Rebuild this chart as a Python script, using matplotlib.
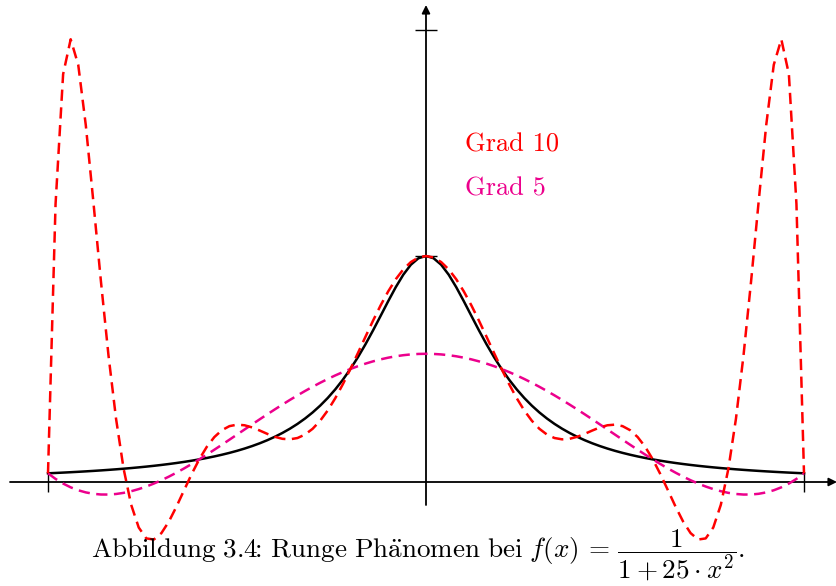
import numpy as np
import matplotlib
matplotlib.use("Agg")
import matplotlib.pyplot as plt

plt.rcParams['mathtext.fontset'] = 'cm'
plt.rcParams['font.family'] = ['cmr10', 'DejaVu Serif']
plt.rcParams['axes.unicode_minus'] = False

# Runge function stated in the caption
def runge(x):
    return 1.0 / (1.0 + 25.0 * x ** 2)

# Equidistant interpolation nodes on [-1, 1]
nodes_deg10 = [-1.0, -0.8, -0.6, -0.4, -0.2, 0.0, 0.2, 0.4, 0.6, 0.8, 1.0]
nodes_deg5 = [-1.0, -0.6, -0.2, 0.2, 0.6, 1.0]
labels = ["Grad 10", "Grad 5"]

RED = "#ff0000"
MAGENTA = "#ec008c"

xs = np.linspace(-1, 1, 101)
x_nodes10 = np.array(nodes_deg10)
x_nodes5 = np.array(nodes_deg5)
p10 = np.polyfit(x_nodes10, runge(x_nodes10), 10)
p5 = np.polyfit(x_nodes5, runge(x_nodes5), 5)

fig = plt.figure(figsize=(8.37, 5.86), dpi=100)
ax = fig.add_axes([0, 0, 1, 1])
W, H = 837, 586
x0px, sx = 426.0, 378.0
y0px, sy = 482.0, 226.0
ax.set_xlim(-x0px / sx, (W - x0px) / sx)
ax.set_ylim(-(H - y0px) / sy, y0px / sy)
ax.axis('off')

# Axes with arrows
axis_lw = 1.3
ax.annotate("", xy=((W - x0px) / sx, 0), xytext=((10 - x0px) / sx, 0),
            arrowprops=dict(arrowstyle="-|>", lw=axis_lw, color="black",
                            mutation_scale=12, shrinkA=0, shrinkB=0))
ax.annotate("", xy=(0, (y0px - 5) / sy), xytext=(0, (y0px - 505) / sy),
            arrowprops=dict(arrowstyle="-|>", lw=axis_lw, color="black",
                            mutation_scale=12, shrinkA=0, shrinkB=0))

# Tick marks
ty = 10 / sy
for xv in (-1, 1):
    ax.plot([xv, xv], [-ty, ty], color="black", lw=1.0, solid_capstyle="butt")
for yv in (1, 2):
    ax.plot([-11 / sx, 11 / sx], [yv, yv], color="black", lw=1.0,
            solid_capstyle="butt")

# Curves
ax.plot(xs, runge(xs), color="black", lw=1.8, zorder=3)
ax.plot(xs, np.polyval(p5, xs), color=MAGENTA, lw=1.8, dashes=(4.5, 2.6),
        zorder=4)
ax.plot(xs, np.polyval(p10, xs), color=RED, lw=1.8, dashes=(4.5, 2.6),
        zorder=5)

# Labels
ax.text((465 - x0px) / sx, (y0px - 152) / sy, labels[0], color=RED,
        fontsize=19, ha="left", va="baseline")
ax.text((465 - x0px) / sx, (y0px - 196) / sy, labels[1], color=MAGENTA,
        fontsize=19, ha="left", va="baseline")

# Caption
caption = (r"$\mathrm{Abbildung\ 3.4}\!\!:\!\ \mathrm{Runge\ Ph\ddot{a}nomen\ bei}\ "
           r"f(x)\,=\,\dfrac{1}{1+25\cdot x^2}.$")
fig.text(0.5, 1 - 555 / H, caption,
         fontsize=19.5, ha="center", va="center", color="black")

fig.savefig("out.png", dpi=100)
